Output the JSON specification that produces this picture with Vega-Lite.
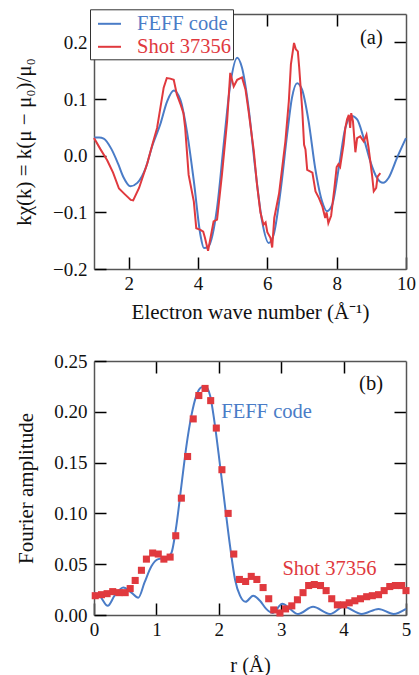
{
  "$schema": "https://vega.github.io/schema/vega-lite/v6.json",
  "padding": {"left": 13, "top": 8, "right": 0, "bottom": 0},
  "spacing": 30,
  "config": {
    "view": {"stroke": null},
    "font": "Liberation Serif",
    "axis": {"domain": true, "domainColor": "#555", "domainWidth": 1.5, "grid": false, "ticks": true, "tickSize": -12, "tickColor": "black", "tickOpacity": 1, "tickWidth": 1.5, "labelFont": "Liberation Serif", "labelFontSize": 19, "labelColor": "#111", "titleFont": "Liberation Serif", "titleFontSize": 21, "titleFontWeight": "normal", "titleColor": "#111", "labelPadding": 17, "labelFlush": false, "labelOverlap": false}
  },
  "vconcat": [
    {
      "width": 312,
      "height": 255,
      "data": {"values": [
        {"k":1.00,"v":0.032,"s":"FEFF code"},{"k":1.15,"v":0.032,"s":"FEFF code"},{"k":1.28,"v":0.030,"s":"FEFF code"},{"k":1.50,"v":0.012,"s":"FEFF code"},{"k":1.70,"v":-0.015,"s":"FEFF code"},{"k":1.85,"v":-0.038,"s":"FEFF code"},{"k":2.05,"v":-0.054,"s":"FEFF code"},{"k":2.25,"v":-0.048,"s":"FEFF code"},{"k":2.49,"v":-0.022,"s":"FEFF code"},{"k":2.68,"v":0.017,"s":"FEFF code"},{"k":2.91,"v":0.055,"s":"FEFF code"},{"k":3.11,"v":0.096,"s":"FEFF code"},{"k":3.30,"v":0.115,"s":"FEFF code"},{"k":3.49,"v":0.099,"s":"FEFF code"},{"k":3.68,"v":0.043,"s":"FEFF code"},{"k":3.88,"v":-0.045,"s":"FEFF code"},{"k":4.07,"v":-0.140,"s":"FEFF code"},{"k":4.17,"v":-0.163,"s":"FEFF code"},{"k":4.30,"v":-0.160,"s":"FEFF code"},{"k":4.55,"v":-0.092,"s":"FEFF code"},{"k":4.74,"v":0.019,"s":"FEFF code"},{"k":4.93,"v":0.125,"s":"FEFF code"},{"k":5.13,"v":0.173,"s":"FEFF code"},{"k":5.27,"v":0.155,"s":"FEFF code"},{"k":5.46,"v":0.084,"s":"FEFF code"},{"k":5.65,"v":-0.022,"s":"FEFF code"},{"k":5.85,"v":-0.116,"s":"FEFF code"},{"k":6.04,"v":-0.154,"s":"FEFF code"},{"k":6.18,"v":-0.140,"s":"FEFF code"},{"k":6.38,"v":-0.063,"s":"FEFF code"},{"k":6.57,"v":0.037,"s":"FEFF code"},{"k":6.71,"v":0.102,"s":"FEFF code"},{"k":6.86,"v":0.128,"s":"FEFF code"},{"k":7.00,"v":0.117,"s":"FEFF code"},{"k":7.19,"v":0.061,"s":"FEFF code"},{"k":7.38,"v":-0.022,"s":"FEFF code"},{"k":7.58,"v":-0.081,"s":"FEFF code"},{"k":7.72,"v":-0.098,"s":"FEFF code"},{"k":7.87,"v":-0.087,"s":"FEFF code"},{"k":8.06,"v":-0.022,"s":"FEFF code"},{"k":8.25,"v":0.049,"s":"FEFF code"},{"k":8.44,"v":0.070,"s":"FEFF code"},{"k":8.59,"v":0.064,"s":"FEFF code"},{"k":8.78,"v":0.031,"s":"FEFF code"},{"k":8.97,"v":-0.010,"s":"FEFF code"},{"k":9.16,"v":-0.039,"s":"FEFF code"},{"k":9.34,"v":-0.048,"s":"FEFF code"},{"k":9.50,"v":-0.039,"s":"FEFF code"},{"k":9.74,"v":-0.004,"s":"FEFF code"},{"k":10.00,"v":0.031,"s":"FEFF code"},
        {"k":1.00,"v":0.031,"s":"Shot 37356"},{"k":1.18,"v":0.012,"s":"Shot 37356"},{"k":1.38,"v":-0.008,"s":"Shot 37356"},{"k":1.55,"v":-0.030,"s":"Shot 37356"},{"k":1.72,"v":-0.058,"s":"Shot 37356"},{"k":1.87,"v":-0.067,"s":"Shot 37356"},{"k":2.06,"v":-0.078,"s":"Shot 37356"},{"k":2.13,"v":-0.079,"s":"Shot 37356"},{"k":2.30,"v":-0.057,"s":"Shot 37356"},{"k":2.54,"v":-0.013,"s":"Shot 37356"},{"k":2.68,"v":0.019,"s":"Shot 37356"},{"k":2.82,"v":0.049,"s":"Shot 37356"},{"k":3.01,"v":0.120,"s":"Shot 37356"},{"k":3.10,"v":0.137,"s":"Shot 37356"},{"k":3.20,"v":0.136,"s":"Shot 37356"},{"k":3.30,"v":0.134,"s":"Shot 37356"},{"k":3.39,"v":0.108,"s":"Shot 37356"},{"k":3.50,"v":0.090,"s":"Shot 37356"},{"k":3.58,"v":0.075,"s":"Shot 37356"},{"k":3.63,"v":0.049,"s":"Shot 37356"},{"k":3.73,"v":-0.034,"s":"Shot 37356"},{"k":3.88,"v":-0.081,"s":"Shot 37356"},{"k":3.95,"v":-0.128,"s":"Shot 37356"},{"k":4.07,"v":-0.131,"s":"Shot 37356"},{"k":4.15,"v":-0.134,"s":"Shot 37356"},{"k":4.20,"v":-0.145,"s":"Shot 37356"},{"k":4.29,"v":-0.168,"s":"Shot 37356"},{"k":4.45,"v":-0.116,"s":"Shot 37356"},{"k":4.55,"v":-0.113,"s":"Shot 37356"},{"k":4.69,"v":-0.034,"s":"Shot 37356"},{"k":4.84,"v":0.061,"s":"Shot 37356"},{"k":4.93,"v":0.146,"s":"Shot 37356"},{"k":5.03,"v":0.122,"s":"Shot 37356"},{"k":5.13,"v":0.134,"s":"Shot 37356"},{"k":5.27,"v":0.138,"s":"Shot 37356"},{"k":5.37,"v":0.117,"s":"Shot 37356"},{"k":5.46,"v":0.078,"s":"Shot 37356"},{"k":5.61,"v":0.008,"s":"Shot 37356"},{"k":5.70,"v":-0.050,"s":"Shot 37356"},{"k":5.80,"v":-0.100,"s":"Shot 37356"},{"k":5.89,"v":-0.122,"s":"Shot 37356"},{"k":5.95,"v":-0.118,"s":"Shot 37356"},{"k":6.00,"v":-0.135,"s":"Shot 37356"},{"k":6.09,"v":-0.145,"s":"Shot 37356"},{"k":6.14,"v":-0.162,"s":"Shot 37356"},{"k":6.20,"v":-0.110,"s":"Shot 37356"},{"k":6.34,"v":-0.066,"s":"Shot 37356"},{"k":6.52,"v":0.025,"s":"Shot 37356"},{"k":6.62,"v":0.096,"s":"Shot 37356"},{"k":6.68,"v":0.161,"s":"Shot 37356"},{"k":6.77,"v":0.199,"s":"Shot 37356"},{"k":6.82,"v":0.188,"s":"Shot 37356"},{"k":6.88,"v":0.184,"s":"Shot 37356"},{"k":6.92,"v":0.155,"s":"Shot 37356"},{"k":7.01,"v":0.078,"s":"Shot 37356"},{"k":7.06,"v":0.019,"s":"Shot 37356"},{"k":7.10,"v":0.011,"s":"Shot 37356"},{"k":7.15,"v":-0.025,"s":"Shot 37356"},{"k":7.30,"v":-0.030,"s":"Shot 37356"},{"k":7.39,"v":-0.063,"s":"Shot 37356"},{"k":7.49,"v":-0.075,"s":"Shot 37356"},{"k":7.59,"v":-0.090,"s":"Shot 37356"},{"k":7.67,"v":-0.110,"s":"Shot 37356"},{"k":7.71,"v":-0.100,"s":"Shot 37356"},{"k":7.76,"v":-0.119,"s":"Shot 37356"},{"k":7.84,"v":-0.106,"s":"Shot 37356"},{"k":7.93,"v":-0.060,"s":"Shot 37356"},{"k":8.00,"v":-0.020,"s":"Shot 37356"},{"k":8.05,"v":-0.015,"s":"Shot 37356"},{"k":8.10,"v":-0.020,"s":"Shot 37356"},{"k":8.20,"v":0.020,"s":"Shot 37356"},{"k":8.25,"v":0.049,"s":"Shot 37356"},{"k":8.30,"v":0.064,"s":"Shot 37356"},{"k":8.35,"v":0.072,"s":"Shot 37356"},{"k":8.39,"v":0.049,"s":"Shot 37356"},{"k":8.42,"v":0.075,"s":"Shot 37356"},{"k":8.47,"v":0.061,"s":"Shot 37356"},{"k":8.54,"v":0.006,"s":"Shot 37356"},{"k":8.59,"v":0.031,"s":"Shot 37356"},{"k":8.68,"v":0.034,"s":"Shot 37356"},{"k":8.78,"v":0.025,"s":"Shot 37356"},{"k":8.86,"v":0.037,"s":"Shot 37356"},{"k":8.92,"v":0.014,"s":"Shot 37356"},{"k":9.02,"v":-0.034,"s":"Shot 37356"},{"k":9.07,"v":-0.063,"s":"Shot 37356"},{"k":9.14,"v":-0.057,"s":"Shot 37356"},{"k":9.18,"v":-0.037,"s":"Shot 37356"},{"k":9.26,"v":-0.031,"s":"Shot 37356"}
      ]},
      "layer": [
        {
          "transform": [{"filter": "datum.s === 'FEFF code'"}],
          "mark": {"type": "line", "interpolate": "monotone", "strokeWidth": 2},
          "encoding": {
            "x": {"field": "k", "type": "quantitative", "scale": {"domain": [1, 10], "nice": false, "zero": false}, "axis": {"orient": "bottom", "title": "Electron wave number (Å⁻¹)", "titlePadding": 8, "values": [2, 4, 6, 8, 10], "format": "d"}},
            "y": {"field": "v", "type": "quantitative", "scale": {"domain": [-0.2, 0.25], "nice": false}, "axis": {"orient": "left", "title": "kχ(k) = k(μ − μ₀)/μ₀", "titlePadding": 18, "labelPadding": 19, "values": [-0.2, -0.1, 0, 0.1, 0.2], "format": ".1f"}},
            "color": {"field": "s", "type": "nominal", "scale": {"domain": ["FEFF code", "Shot 37356"], "range": ["#4a7cc7", "#e0393e"]},
              "legend": {"orient": "none", "legendX": -4, "legendY": -4.7, "title": null, "symbolType": "stroke", "symbolSize": 529, "symbolStrokeWidth": 2, "symbolOffset": 5, "labelFont": "Liberation Serif", "labelFontSize": 20.5, "fillColor": "white", "strokeColor": "#333", "padding": 2, "rowPadding": -2, "labelOffset": 15,
                "encode": {"labels": {"update": {"fill": {"signal": "datum.label === 'FEFF code' ? '#4a7cc7' : '#e0393e'"}}}}}}
          }
        },
        {
          "transform": [{"filter": "datum.s === 'Shot 37356'"}],
          "mark": {"type": "line", "strokeWidth": 2},
          "encoding": {
            "x": {"field": "k", "type": "quantitative", "axis": {"orient": "top", "labels": false, "title": null, "values": [2, 4, 6, 8]}},
            "y": {"field": "v", "type": "quantitative", "axis": {"orient": "right", "labels": false, "title": null, "values": [-0.1, 0, 0.1, 0.2]}},
            "color": {"field": "s", "type": "nominal"}
          }
        },
        {
          "data": {"values": [{"k": 9.0, "v": 0.208, "t": "(a)"}]},
          "mark": {"type": "text", "fontSize": 20.5, "font": "Liberation Serif", "color": "#111"},
          "encoding": {
            "x": {"field": "k", "type": "quantitative", "axis": null},
            "y": {"field": "v", "type": "quantitative", "axis": null},
            "text": {"field": "t"}
          }
        }
      ]
    },
    {
      "width": 312,
      "height": 254,
      "layer": [
        {
          "data": {"values": [
            {"r":0.00,"a":0.022},{"r":0.09,"a":0.019},{"r":0.22,"a":0.009},{"r":0.33,"a":0.019},{"r":0.47,"a":0.027},{"r":0.60,"a":0.022},{"r":0.71,"a":0.017},{"r":0.81,"a":0.032},{"r":0.92,"a":0.048},{"r":1.03,"a":0.055},{"r":1.16,"a":0.056},{"r":1.24,"a":0.061},{"r":1.32,"a":0.088},{"r":1.40,"a":0.127},{"r":1.48,"a":0.166},{"r":1.56,"a":0.196},{"r":1.64,"a":0.216},{"r":1.72,"a":0.224},{"r":1.79,"a":0.225},{"r":1.86,"a":0.216},{"r":1.94,"a":0.186},{"r":2.02,"a":0.147},{"r":2.10,"a":0.107},{"r":2.18,"a":0.068},{"r":2.26,"a":0.035},{"r":2.34,"a":0.019},{"r":2.43,"a":0.013},{"r":2.55,"a":0.019},{"r":2.66,"a":0.014},{"r":2.76,"a":0.006},{"r":2.86,"a":0.002},{"r":3.02,"a":0.011},{"r":3.14,"a":0.006},{"r":3.27,"a":0.001},{"r":3.51,"a":0.008},{"r":3.78,"a":0.001},{"r":4.00,"a":0.008},{"r":4.29,"a":0.001},{"r":4.56,"a":0.006},{"r":4.80,"a":0.001},{"r":5.00,"a":0.006}
          ]},
          "mark": {"type": "line", "interpolate": "monotone", "strokeWidth": 2, "color": "#4a7cc7"},
          "encoding": {
            "x": {"field": "r", "type": "quantitative", "scale": {"domain": [0, 5], "nice": false}, "axis": {"orient": "bottom", "title": "r (Å)", "titleFontSize": 20.5, "titlePadding": 16, "values": [0, 1, 2, 3, 4, 5], "format": "d"}},
            "y": {"field": "a", "type": "quantitative", "scale": {"domain": [0, 0.25], "nice": false}, "axis": {"orient": "left", "title": "Fourier amplitude", "titlePadding": 17, "labelPadding": 19, "values": [0, 0.05, 0.1, 0.15, 0.2, 0.25], "format": ".2f"}}
          }
        },
        {
          "data": {"values": [
            {"r":0.02,"a":0.019},{"r":0.12,"a":0.020},{"r":0.21,"a":0.021},{"r":0.30,"a":0.023},{"r":0.40,"a":0.022},{"r":0.50,"a":0.022},{"r":0.58,"a":0.026},{"r":0.66,"a":0.034},{"r":0.76,"a":0.044},{"r":0.84,"a":0.055},{"r":0.94,"a":0.061},{"r":1.03,"a":0.060},{"r":1.12,"a":0.055},{"r":1.22,"a":0.057},{"r":1.31,"a":0.078},{"r":1.40,"a":0.115},{"r":1.50,"a":0.156},{"r":1.59,"a":0.193},{"r":1.68,"a":0.216},{"r":1.78,"a":0.223},{"r":1.87,"a":0.211},{"r":1.96,"a":0.184},{"r":2.05,"a":0.143},{"r":2.15,"a":0.100},{"r":2.24,"a":0.060},{"r":2.33,"a":0.035},{"r":2.43,"a":0.033},{"r":2.52,"a":0.038},{"r":2.61,"a":0.035},{"r":2.71,"a":0.027},{"r":2.80,"a":0.016},{"r":2.88,"a":0.005},{"r":2.98,"a":0.002},{"r":3.07,"a":0.006},{"r":3.17,"a":0.009},{"r":3.26,"a":0.015},{"r":3.35,"a":0.022},{"r":3.44,"a":0.029},{"r":3.53,"a":0.030},{"r":3.63,"a":0.029},{"r":3.72,"a":0.024},{"r":3.81,"a":0.016},{"r":3.90,"a":0.010},{"r":4.00,"a":0.010},{"r":4.09,"a":0.012},{"r":4.18,"a":0.014},{"r":4.27,"a":0.016},{"r":4.37,"a":0.018},{"r":4.46,"a":0.019},{"r":4.56,"a":0.020},{"r":4.65,"a":0.024},{"r":4.74,"a":0.028},{"r":4.83,"a":0.029},{"r":4.93,"a":0.029},{"r":5.00,"a":0.024}
          ]},
          "mark": {"type": "square", "size": 50, "filled": true, "opacity": 1, "color": "#e0393e"},
          "encoding": {
            "x": {"field": "r", "type": "quantitative", "axis": {"orient": "top", "labels": false, "title": null, "values": [1, 2, 3, 4]}},
            "y": {"field": "a", "type": "quantitative", "axis": {"orient": "right", "labels": false, "title": null, "values": [0.05, 0.1, 0.15, 0.2]}}
          }
        },
        {
          "data": {"values": [{"r": 2.04, "a": 0.200, "t": "FEFF code"}]},
          "mark": {"type": "text", "align": "left", "baseline": "middle", "fontSize": 20.5, "font": "Liberation Serif", "color": "#4a7cc7"},
          "encoding": {
            "x": {"field": "r", "type": "quantitative", "axis": null},
            "y": {"field": "a", "type": "quantitative", "axis": null},
            "text": {"field": "t"}
          }
        },
        {
          "data": {"values": [{"r": 3.02, "a": 0.045, "t": "Shot 37356"}]},
          "mark": {"type": "text", "align": "left", "baseline": "middle", "fontSize": 20.5, "font": "Liberation Serif", "color": "#e0393e"},
          "encoding": {
            "x": {"field": "r", "type": "quantitative", "axis": null},
            "y": {"field": "a", "type": "quantitative", "axis": null},
            "text": {"field": "t"}
          }
        },
        {
          "data": {"values": [{"r": 4.44, "a": 0.227, "t": "(b)"}]},
          "mark": {"type": "text", "fontSize": 20.5, "font": "Liberation Serif", "color": "#111"},
          "encoding": {
            "x": {"field": "r", "type": "quantitative", "axis": null},
            "y": {"field": "a", "type": "quantitative", "axis": null},
            "text": {"field": "t"}
          }
        }
      ]
    }
  ]
}
